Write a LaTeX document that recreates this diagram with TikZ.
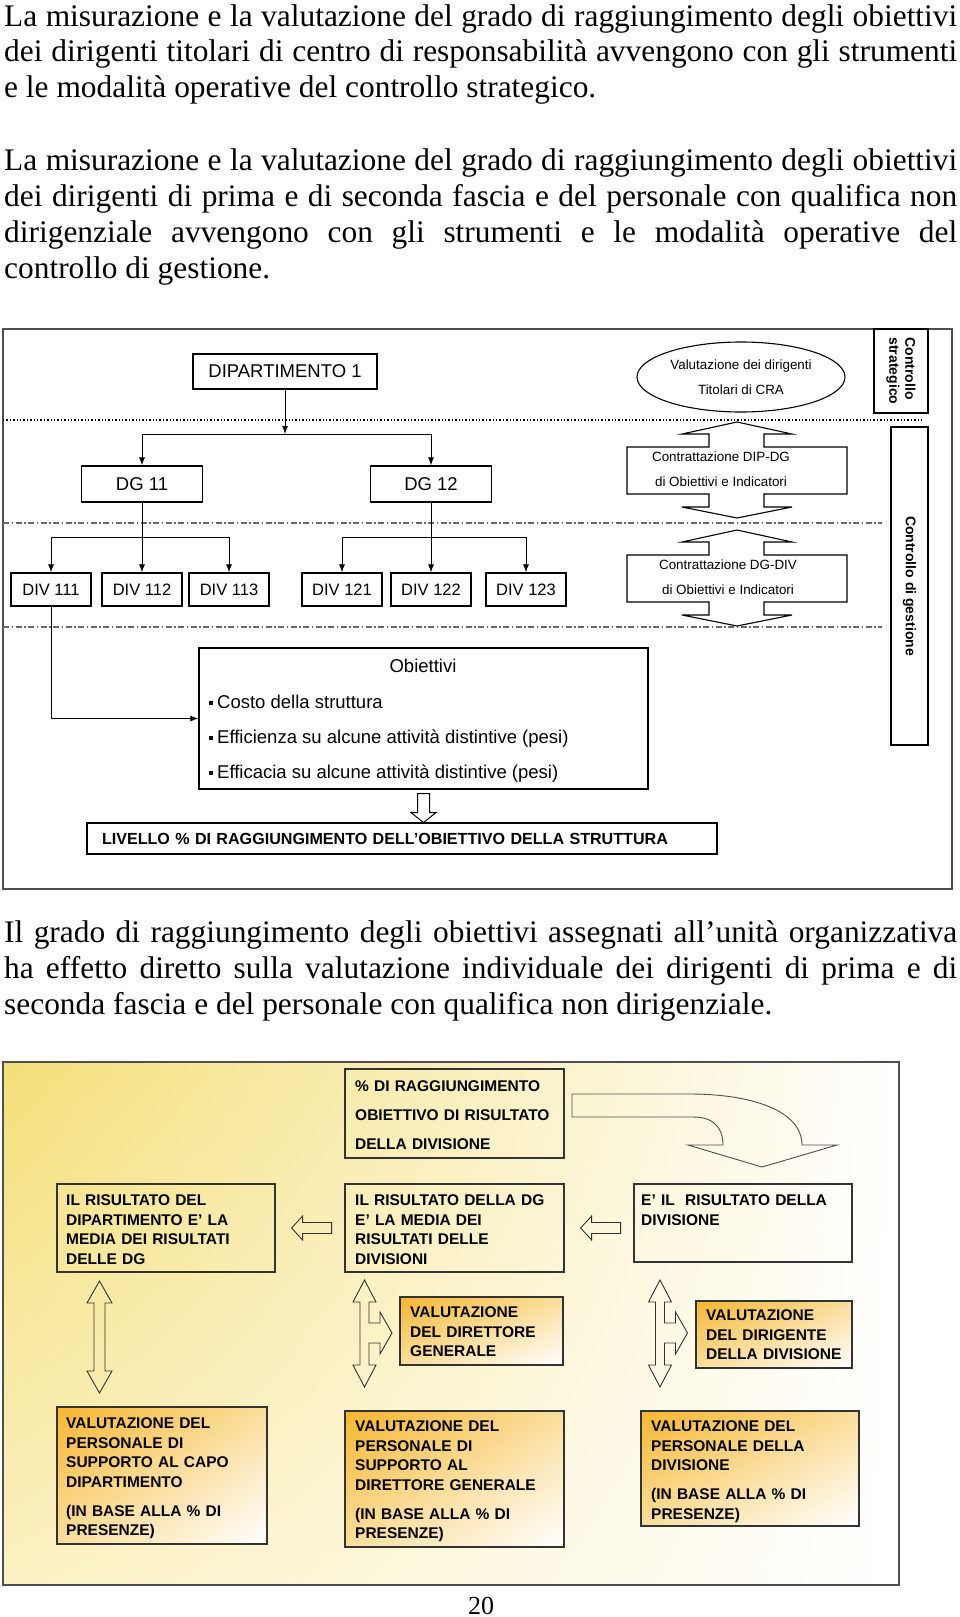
\documentclass[tikz,border=0pt]{standalone}
\usepackage{fontspec}
\setmainfont{Liberation Serif}
\newfontfamily\arialfont{Liberation Sans}
\usetikzlibrary{arrows.meta,shapes.geometric,shadings}

\definecolor{framegray}{HTML}{4F4F4F}
\definecolor{linegray}{HTML}{333333}
\definecolor{dashgray}{HTML}{6A6A6A}
\definecolor{panelyellow}{HTML}{F4DF78}
\definecolor{panelcream}{HTML}{FBF1C2}
\definecolor{gold}{HTML}{F6B630}
\definecolor{goldlight}{HTML}{FBDE9C}

\tikzset{
  bodyline/.style={anchor=base west, inner sep=0pt, font=\fontsize{31.4}{35.7}\selectfont},
  orgbox/.style={draw, line width=1.1pt, inner sep=0pt, font=\arialfont\fontsize{18.5}{22}\selectfont},
  divbox/.style={orgbox, minimum width=80pt, minimum height=33pt, font=\arialfont\fontsize{16.5}{20}\selectfont},
  smalltext/.style={inner sep=0pt, align=center, font=\arialfont\fontsize{13.4}{25}\selectfont},
  sidebox/.style={draw, line width=1.1pt, rotate=-90, inner sep=0pt, font=\arialfont\bfseries\fontsize{14}{16}\selectfont},
  objline/.style={anchor=base west, inner sep=0pt, font=\arialfont\fontsize{18.5}{22}\selectfont},
  arr/.style={-{Latex[length=8pt,width=6pt]}, line width=1pt},
  sepdots/.style={dotted, line width=1.4pt},
  sepdashdot/.style={draw=dashgray, line width=1.1pt, dash pattern=on 6pt off 2.5pt on 1.5pt off 2.5pt},
  hollow/.style={draw=linegray, line width=0.9pt, line join=miter},
  capsbox/.style={draw=linegray, line width=1.2pt, inner sep=0pt},
  goldbox/.style={capsbox, shade, upper left=gold, upper right=goldlight, lower left=goldlight, lower right=white},
  capstext/.style={anchor=base west, inner sep=0pt, text width=210pt, align=left, font=\arialfont\bfseries\fontsize{15.5}{19.6}\selectfont},
}

\begin{document}
\begin{tikzpicture}[x=1pt, y=-1pt]
  \useasboundingbox (0,0) rectangle (960,1617);

  % testo sopra
  \node[bodyline] (p1a) at (4,26) {\makebox[953pt][s]{La misurazione e la valutazione del grado di raggiungimento degli obiettivi}};
  \node[bodyline] (p1b) at (4,61.7) {\makebox[953pt][s]{dei dirigenti titolari di centro di responsabilità avvengono con gli strumenti}};
  \node[bodyline] (p1c) at (4,97.4) {e le modalità operative del controllo strategico.};
  \node[bodyline] (p2a) at (4,170.5) {\makebox[953pt][s]{La misurazione e la valutazione del grado di raggiungimento degli obiettivi}};
  \node[bodyline] (p2b) at (4,206.5) {\makebox[953pt][s]{dei dirigenti di prima e di seconda fascia e del personale con qualifica non}};
  \node[bodyline] (p2c) at (4,242.5) {\makebox[953pt][s]{dirigenziale avvengono con gli strumenti e le modalità operative del}};
  \node[bodyline] (p2d) at (4,278.5) {controllo di gestione.};

  % schema 1
  \draw[framegray, line width=1.5pt] (3,329) rectangle (952,889);
  \draw[sepdots] (3,420) -- (922,420);
  \draw[sepdashdot] (3,523) -- (882,523);
  \draw[sepdashdot] (3,627) -- (882,627);

  \node[orgbox, minimum width=184pt, minimum height=35pt] (dip) at (285,371.5) {DIPARTIMENTO 1};
  \node[draw, ellipse, line width=1.1pt, minimum width=208pt, minimum height=70pt, inner sep=0pt,
        align=center, font=\arialfont\fontsize{13.4}{25}\selectfont] (valut) at (741,377) {Valutazione dei dirigenti\\Titolari di CRA};
  \node[sidebox, minimum width=84pt, minimum height=54pt, align=left] (cstrat) at (901,371) {Controllo\\strategico};
  \node[sidebox, minimum width=318pt, minimum height=37pt] (cgest) at (909.5,586) {Controllo di gestione};

  \node[orgbox, minimum width=121pt, minimum height=36pt] (dg11) at (142,484) {DG 11};
  \node[orgbox, minimum width=121pt, minimum height=36pt] (dg12) at (431,484) {DG 12};
  \foreach \nm/\x in {111/51, 112/142, 113/229, 121/342, 122/431, 123/526}
    \node[divbox] (div\nm) at (\x,589.5) {DIV \nm};

  \coordinate (dipbar) at (285,434);
  \draw[arr] (dip) -- (dipbar);
  \draw[line width=1pt] (dipbar -| dg11) -- (dipbar -| dg12);
  \draw[arr] (dipbar -| dg11) -- (dg11);
  \draw[arr] (dipbar -| dg12) -- (dg12);

  \coordinate (dgbar1) at (142,537);
  \coordinate (dgbar2) at (431,537);
  \draw[arr] (dg11) -- (div112);
  \draw[line width=1pt] (dgbar1 -| div111) -- (dgbar1 -| div113);
  \draw[arr] (dgbar1 -| div111) -- (div111);
  \draw[arr] (dgbar1 -| div113) -- (div113);
  \draw[arr] (dg12) -- (div122);
  \draw[line width=1pt] (dgbar2 -| div121) -- (dgbar2 -| div123);
  \draw[arr] (dgbar2 -| div121) -- (div121);
  \draw[arr] (dgbar2 -| div123) -- (div123);

  % frecce di contrattazione
  \foreach \t/\nm/\lbl/\tx in {422/cdipdg/DIP-DG/721, 530/cdgdiv/DG-DIV/728}{
    \draw[line width=1.1pt, line join=miter] (737,\t) -- (792,\t+12) -- (764,\t+12) -- (764,\t+25) -- (847,\t+25)
      -- (847,\t+72) -- (764,\t+72) -- (764,\t+85) -- (792,\t+85) -- (737,\t+96) -- (682,\t+85) -- (709,\t+85)
      -- (709,\t+72) -- (627,\t+72) -- (627,\t+25) -- (709,\t+25) -- (709,\t+12) -- (682,\t+12) -- cycle;
    \node[smalltext] (\nm) at (\tx,\t+47.5) {Contrattazione \lbl\\di Obiettivi e Indicatori};
  }

  \node[draw, line width=1.1pt, minimum width=449pt, minimum height=141pt, inner sep=0pt] (obj) at (423.5,718.5) {};
  \node[objline, anchor=base] (objtitle) at (423,672) {Obiettivi};
  \node[objline] (objcost) at (209,708) {\rule[3pt]{4pt}{4pt}\hspace{4pt}Costo della struttura};
  \node[objline] (objeff) at (209,743) {\rule[3pt]{4pt}{4pt}\hspace{4pt}Efficienza su alcune attività distintive (pesi)};
  \node[objline] (objefc) at (209,778) {\rule[3pt]{4pt}{4pt}\hspace{4pt}Efficacia su alcune attività distintive (pesi)};
  \draw[arr] (div111) |- (obj);

  \node[draw, line width=1.1pt, text width=600pt, inner xsep=15pt, inner ysep=0pt, minimum height=31pt, align=left,
        font=\arialfont\bfseries\fontsize{16.1}{19}\selectfont] (livello) at (402,838.5)
        {LIVELLO \% DI RAGGIUNGIMENTO DELL’OBIETTIVO DELLA STRUTTURA};
  \draw[line width=1pt, line join=miter, shift={(obj.south)}] (-6,4) -- (-6,23) -- (-12.5,23) -- (0,33)
    -- (12.5,23) -- (6,23) -- (6,4) -- cycle;

  % testo in mezzo
  \node[bodyline] (p3a) at (4,942.5) {\makebox[953pt][s]{Il grado di raggiungimento degli obiettivi assegnati all’unità organizzativa}};
  \node[bodyline] (p3b) at (4,978.5) {\makebox[953pt][s]{ha effetto diretto sulla valutazione individuale dei dirigenti di prima e di}};
  \node[bodyline] (p3c) at (4,1014.5) {seconda fascia e del personale con qualifica non dirigenziale.};

  % schema 2
  \shade[upper left=panelyellow, upper right=white, lower left=panelcream, lower right=white] (3,1062) rectangle (899,1585);
  \draw[framegray, line width=1.5pt] (3,1062) rectangle (899,1585);

  \node[capsbox, minimum width=219pt, minimum height=89pt] (pct) at (454.5,1113.5) {};
  \node[capstext, font=\arialfont\bfseries\fontsize{15.5}{29}\selectfont] (pcttext) at (355,1091.5)
    {\% DI RAGGIUNGIMENTO\\OBIETTIVO DI RISULTATO\\DELLA DIVISIONE};

  \node[capsbox, minimum width=218pt, minimum height=88pt] (resdip) at (166,1228) {};
  \node[capstext] (resdiptext) at (66,1205.5) {IL RISULTATO DEL\\DIPARTIMENTO E’ LA\\MEDIA DEI RISULTATI\\DELLE DG};
  \node[capsbox, minimum width=219pt, minimum height=88pt] (resdg) at (454.5,1228) {};
  \node[capstext] (resdgtext) at (355,1205.5) {IL RISULTATO DELLA DG\\E’ LA MEDIA DEI\\RISULTATI DELLE\\DIVISIONI};
  \node[capsbox, minimum width=218pt, minimum height=78pt] (resdiv) at (743,1223) {};
  \node[capstext] (resdivtext) at (641,1205.5) {E’ IL\ \ RISULTATO DELLA\\DIVISIONE};

  \node[goldbox, minimum width=163pt, minimum height=68pt] (valdg) at (481.5,1331) {};
  \node[capstext] (valdgtext) at (410,1317.5) {VALUTAZIONE\\DEL DIRETTORE\\GENERALE};
  \node[goldbox, minimum width=156pt, minimum height=67pt] (valdiv) at (774,1334.5) {};
  \node[capstext] (valdivtext) at (706,1320.5) {VALUTAZIONE\\DEL DIRIGENTE\\DELLA DIVISIONE};

  \node[goldbox, minimum width=210pt, minimum height=137pt] (perdip) at (162,1475.5) {};
  \node[capstext] (perdiptext) at (66,1428.5)
    {VALUTAZIONE DEL\\PERSONALE DI\\SUPPORTO AL CAPO\\DIPARTIMENTO\\[9.4pt](IN BASE ALLA \% DI\\PRESENZE)};
  \node[goldbox, minimum width=219pt, minimum height=136pt] (perdg) at (454.5,1479) {};
  \node[capstext] (perdgtext) at (355,1431.5)
    {VALUTAZIONE DEL\\PERSONALE DI\\SUPPORTO AL\\DIRETTORE GENERALE\\[9.4pt](IN BASE ALLA \% DI\\PRESENZE)};
  \node[goldbox, minimum width=218pt, minimum height=115pt] (perdiv) at (750,1468.5) {};
  \node[capstext] (perdivtext) at (651,1431.5)
    {VALUTAZIONE DEL\\PERSONALE DELLA\\DIVISIONE\\[9.4pt](IN BASE ALLA \% DI\\PRESENZE)};

  % frecce vuote
  \foreach \from in {resdip, resdg}
    \draw[hollow, shift={(\from.east)}] (16,0) -- (27,-12) -- (27,-5.5) -- (56,-5.5) -- (56,5.5) -- (27,5.5) -- (27,12) -- cycle;
  \draw[hollow] (99.5,1281) -- (112,1303) -- (105,1303) -- (105,1371) -- (112,1371) -- (99.5,1393)
    -- (87,1371) -- (94,1371) -- (94,1303) -- (87,1303) -- cycle;
  \foreach \xc in {364.5, 660}
    \draw[hollow, shift={(\xc,0)}] (0,1280) -- (11.5,1302) -- (4.5,1302) -- (4.5,1323) -- (15.5,1323) -- (15.5,1312)
      -- (27.5,1333) -- (15.5,1354) -- (15.5,1343) -- (4.5,1343) -- (4.5,1365) -- (11.5,1365) -- (0,1387)
      -- (-11.5,1365) -- (-4.5,1365) -- (-4.5,1302) -- (-11.5,1302) -- cycle;
  \draw[hollow, draw=framegray] (572,1094) -- (690,1094) .. controls (750,1094) and (802,1110) .. (802,1145)
    -- (837,1145) -- (762,1167) -- (688,1145) -- (723,1145) .. controls (723,1127) and (713,1117) .. (693,1117)
    -- (572,1117) -- cycle;

  \node[anchor=base, inner sep=0pt, font=\fontsize{26}{30}\selectfont] (pagenum) at (481,1614) {20};
\end{tikzpicture}
\end{document}
